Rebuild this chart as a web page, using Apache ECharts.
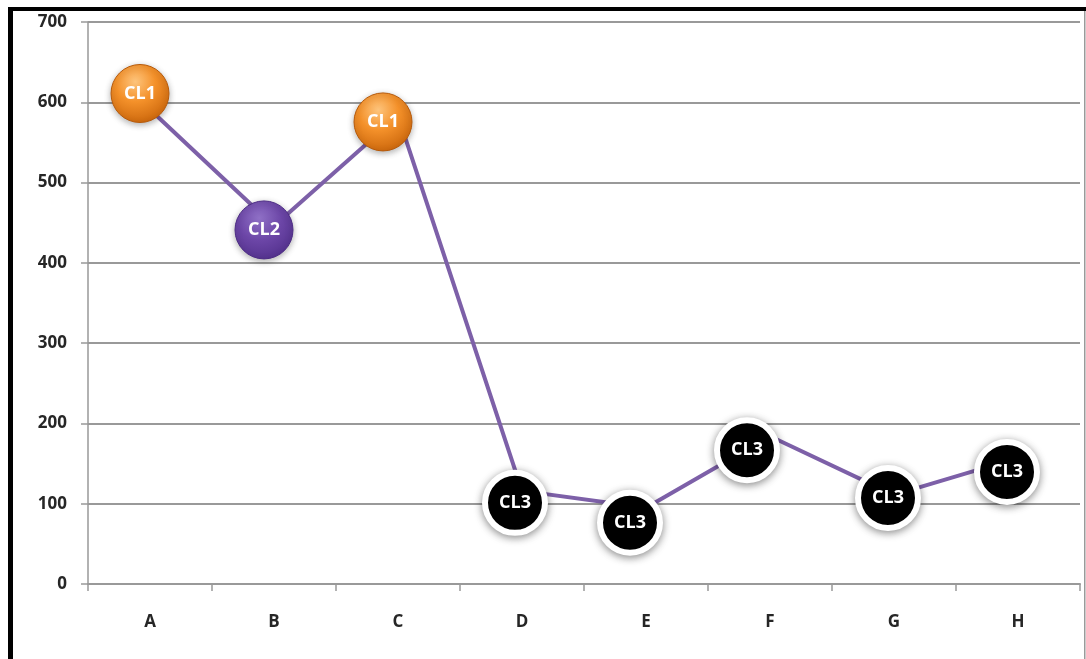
<!DOCTYPE html>
<html>
<head>
<meta charset="utf-8">
<script src="https://cdn.jsdelivr.net/npm/echarts@6/dist/echarts.min.js"></script>
<style>
  html, body { margin: 0; padding: 0; background: #ffffff; }
  #chart { width: 1086px; height: 659px; }
</style>
</head>
<body>
<div id="chart"></div>
<script>
// Categories, values and cluster tags for each point
const categories = ['A', 'B', 'C', 'D', 'E', 'F', 'G', 'H'];
const values = [591, 446, 583, 116, 95, 184, 111, 157];
const clusters = ['CL1', 'CL2', 'CL1', 'CL3', 'CL3', 'CL3', 'CL3', 'CL3'];
const yTickLabels = ['0', '100', '200', '300', '400', '500', '600', '700'];

// How far each cluster badge sits from its point (px)
const badgeNudge = [[-10, -16], [-10, 4], [-15, 6], [-7, 12], [-16, 15], [-23, 14], [-6, 3], [-11, 14]];

const R = echarts.graphic.RadialGradient;
const badgeStyle = {
  CL1: {
    size: 58,
    itemStyle: {
      color: new R(0.42, 0.3, 0.75, [
        { offset: 0, color: '#fdc47c' },
        { offset: 0.45, color: '#f4912a' },
        { offset: 1, color: '#c9640a' }
      ]),
      borderColor: '#b75a0a', borderWidth: 1,
      shadowBlur: 6, shadowColor: 'rgba(0,0,0,0.3)', shadowOffsetY: 2
    }
  },
  CL2: {
    size: 58,
    itemStyle: {
      color: new R(0.42, 0.3, 0.75, [
        { offset: 0, color: '#8f70c6' },
        { offset: 0.5, color: '#6c46a7' },
        { offset: 1, color: '#52308c' }
      ]),
      borderColor: '#4d2c85', borderWidth: 1,
      shadowBlur: 6, shadowColor: 'rgba(0,0,0,0.3)', shadowOffsetY: 2
    }
  },
  CL3: {
    size: 60,
    itemStyle: {
      color: '#000000',
      borderColor: '#ffffff', borderWidth: 6,
      shadowBlur: 9, shadowColor: 'rgba(0,0,0,0.38)', shadowOffsetY: 2
    }
  }
};

// labels follow the symbol offset, so only the symbol is nudged
const seriesData = values.map((v, i) => {
  const s = badgeStyle[clusters[i]];
  return {
    value: v,
    symbolSize: s.size,
    symbolOffset: badgeNudge[i],
    itemStyle: s.itemStyle
  };
});

const axisGray = '#999999';
const axisText = { color: '#262626', fontFamily: 'Open Sans', fontWeight: 'bold', fontSize: 17 };

const chart = echarts.init(document.getElementById('chart'), null, { renderer: 'canvas' });
chart.setOption({
  animation: false,
  backgroundColor: '#ffffff',
  grid: { left: 88, right: 6, top: 22, bottom: 75, containLabel: false },
  xAxis: {
    type: 'category',
    data: categories,
    boundaryGap: true,
    axisLine: { lineStyle: { color: axisGray, width: 2 } },
    axisTick: { show: true, length: 7, lineStyle: { color: axisGray, width: 1.5 } },
    axisLabel: Object.assign({ margin: 30 }, axisText),
    splitLine: { show: false }
  },
  yAxis: {
    type: 'value',
    min: 0, max: 700, interval: 100,
    axisLine: { show: true, lineStyle: { color: axisGray, width: 1.5 } },
    axisTick: { show: true, length: 7, lineStyle: { color: axisGray, width: 1.5 } },
    axisLabel: Object.assign({
      margin: 21,
      formatter: (v) => yTickLabels[Math.round(v / 100)]
    }, axisText),
    splitLine: { lineStyle: { color: axisGray, width: 2 } }
  },
  series: [{
    type: 'line',
    data: seriesData,
    symbol: 'circle',
    showSymbol: true,
    showAllSymbol: true,
    lineStyle: { color: '#7d60a8', width: 4 },
    label: {
      show: true,
      position: 'inside',
      formatter: (p) => clusters[p.dataIndex],
      color: '#ffffff',
      fontFamily: 'Open Sans',
      fontWeight: 'bold',
      fontSize: 18
    },
    emphasis: { disabled: true },
    z: 3
  }],
  graphic: [
    // frame: heavy black left and top edges, thin grey right edge
    { type: 'rect', shape: { x: 8, y: 7, width: 5, height: 652 }, style: { fill: '#000000' }, z: 10 },
    { type: 'rect', shape: { x: 8, y: 7, width: 1078, height: 4 }, style: { fill: '#000000' }, z: 10 },
    { type: 'rect', shape: { x: 1084, y: 11, width: 1.5, height: 648 }, style: { fill: '#9a9a9a' }, z: 10 }
  ]
});
</script>
</body>
</html>
